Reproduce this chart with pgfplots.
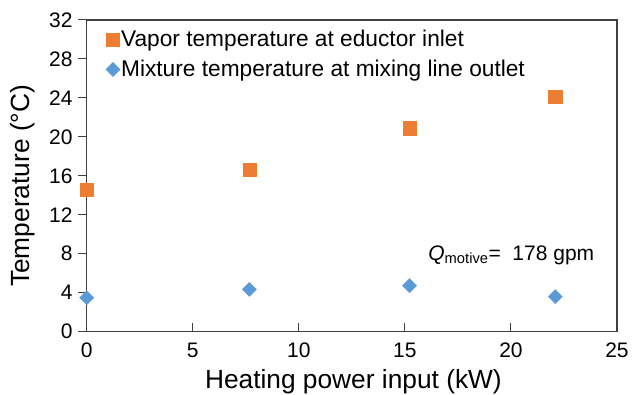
\documentclass[border=0pt]{standalone}
\usepackage{fontspec}
\setmainfont{Liberation Sans}
\usepackage{pgfplots}
\pgfplotsset{compat=1.18}
\definecolor{exorange}{HTML}{ED7D31}
\definecolor{exblue}{HTML}{5B9BD5}
\definecolor{axgray}{HTML}{404040}
\begin{document}
\begin{tikzpicture}
\useasboundingbox (-86.7pt,-63.3pt) rectangle (545.3pt,331.7pt);
\begin{axis}[
  scale only axis,
  width=530.3pt, height=311.7pt,
  xmin=0, xmax=25, ymin=0, ymax=32,
  xtick={0,5,...,25}, ytick={0,4,...,32},
  xtick pos=bottom, ytick pos=left,
  tick align=outside,
  major tick length=9pt,
  x tick style={yshift=9pt, axgray, line width=1pt},
  y tick style={axgray, line width=1pt},
  axis line style={axgray, line width=1.2pt},
  /pgf/number format/assume math mode=true,
  ticklabel style={font=\fontsize{21}{25}\selectfont, inner sep=0pt},
  xticklabel style={yshift=-2pt},
  yticklabel style={xshift=-5pt},
  xlabel={Heating power input (kW)},
  ylabel={Temperature (°C)},
  every axis x label/.style={at={(axis description cs:0.503,-0.181)}, anchor=base, font=\fontsize{26.3}{31}\selectfont},
  every axis y label/.style={at={(axis description cs:-0.120,0.468)}, rotate=90, anchor=center, font=\fontsize{26.3}{31}\selectfont},
  legend style={at={(axis description cs:0.036,0.97)}, anchor=north west, draw=none, fill=none,
    font=\fontsize{22.7}{27}\selectfont, row sep=10pt, inner sep=0pt,
    nodes={inner sep=1pt}},
  legend cell align=left,
  clip=false,
]
\addplot[only marks, mark=square*, mark size=6.6pt, exorange, mark options={draw=exorange, fill=exorange}]
  coordinates {(0,14.6) (7.67,16.67) (15.22,20.9) (22.09,24.1)};
\addlegendentry{Vapor temperature at eductor inlet}
\addplot[only marks, mark=square*, mark size=5pt, exblue, mark options={rotate=45, draw=exblue, fill=exblue}]
  coordinates {(0,3.49) (7.67,4.35) (15.22,4.72) (22.09,3.6)};
\addlegendentry{Mixture temperature at mixing line outlet}
\node[anchor=base west, font=\fontsize{21}{25}\selectfont, inner sep=0pt] at (axis cs:16.1,7.36)
  {\textit{Q}\textsubscript{motive}= \ 178 gpm};
\end{axis}
\end{tikzpicture}
\end{document}
